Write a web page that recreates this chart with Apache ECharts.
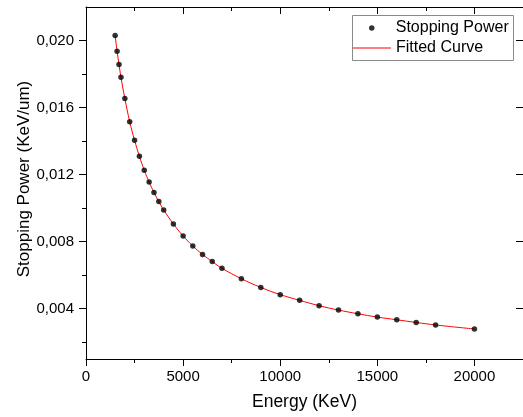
<!doctype html>
<html>

<head>
  <meta charset="utf-8">
  <script src="https://cdn.jsdelivr.net/npm/echarts@6/dist/echarts.min.js"></script>
</head>

<body>
  <style>
    html,
    body {
      width: 100%;
      height: 100%;
      margin: 0;
      background-color: #fff;
    }

    #main {
      width: 523px;
      height: 417px;
    }
  </style>
  <div id="main"></div>
  <script>
    // data
    var energy = [1500, 1600, 1700, 1800, 2000, 2250, 2500, 2750, 3000, 3250, 3500, 3750, 4000, 4500, 5000, 5500,
      6000, 6500, 7000, 8000, 9000, 10000, 11000, 12000, 13000, 14000, 15000, 16000, 17000, 18000, 20000];
    var power = [0.0203, 0.01936, 0.01857, 0.01781, 0.01654, 0.01516, 0.01405, 0.01309, 0.01226, 0.01156, 0.01094,
      0.01039, 0.00989, 0.00906, 0.00834, 0.00774, 0.00724, 0.00681, 0.00641, 0.00579, 0.00527, 0.00484, 0.00450,
      0.00418, 0.00392, 0.00370, 0.00350, 0.00334, 0.00318, 0.00303, 0.00279];
    var xMajor = [0, 5000, 10000, 15000, 20000];
    var xMinor = [2500, 7500, 12500, 17500];
    var yMajor = [0.004, 0.008, 0.012, 0.016, 0.020];
    var yMinor = [0.002, 0.006, 0.010, 0.014, 0.018];

    var font = 'Liberation Sans, Arial, sans-serif';

    window.onload = function () {
      var chart = echarts.init(document.getElementById('main'));
      var points = energy.map(function (e, i) { return [e, power[i]]; });

      function xAx(pos, ticks, len, inside, extra) {
        return Object.assign({
          type: 'value', position: pos, min: 0, max: 22500, gridIndex: 0,
          axisLine: { show: true, onZero: false, lineStyle: { color: '#000', width: 1 } },
          axisTick: { show: true, inside: inside, length: len, customValues: ticks, lineStyle: { color: '#000' } },
          axisLabel: { show: false },
          splitLine: { show: false }
        }, extra || {});
      }
      function yAx(pos, ticks, len, inside, extra) {
        return Object.assign({
          type: 'value', position: pos, min: 0.001, max: 0.022, gridIndex: 0,
          axisLine: { show: true, onZero: false, lineStyle: { color: '#000', width: 1 } },
          axisTick: { show: true, inside: inside, length: len, customValues: ticks, lineStyle: { color: '#000' } },
          axisLabel: { show: false },
          splitLine: { show: false }
        }, extra || {});
      }

      var option = {
        animation: false,
        grid: { left: 86, top: 7, right: 0, bottom: 58 },
        legend: [{
          orient: 'vertical', left: 369, top: 20, padding: 0,
          itemWidth: 38, itemHeight: 5.5,
          data: ['Stopping Power'],
          textStyle: { fontFamily: font, fontSize: 16, color: '#000' }
        }, {
          orient: 'vertical', left: 353, top: 40, padding: 0,
          itemWidth: 38, itemHeight: 1,
          data: [{ name: 'Fitted Curve', icon: 'rect' }],
          textStyle: { fontFamily: font, fontSize: 16, color: '#000' }
        }],
        graphic: [{
          type: 'rect', left: 352, top: 15,
          shape: { width: 161, height: 45 },
          style: { fill: 'rgba(0,0,0,0)', stroke: '#8a8a8a', lineWidth: 1 },
          z: 10
        }],
        xAxis: [
          xAx('bottom', xMajor, 7, false, {
            name: 'Energy (KeV)', nameLocation: 'middle', nameGap: 34, nameMoveOverlap: false,
            nameTextStyle: { fontFamily: font, fontSize: 17.5, color: '#000' },
            axisLabel: {
              show: true, customValues: xMajor, margin: 10,
              fontFamily: font, fontSize: 15, color: '#000',
              formatter: function (v) { return String(v); }
            }
          }),
          xAx('bottom', xMinor, 4, false, { axisLine: { show: false } }),
          xAx('top', xMajor, 7, true),
          xAx('top', xMinor, 4, true, { axisLine: { show: false } })
        ],
        yAxis: [
          yAx('left', yMajor, 7, false, {
            name: 'Stopping Power (KeV/um)', nameLocation: 'middle', nameGap: 53, nameMoveOverlap: false,
            nameTextStyle: { fontFamily: font, fontSize: 17, color: '#000', padding: [0, 0, 0, 8] },
            axisLabel: {
              show: true, customValues: yMajor, margin: 12,
              fontFamily: font, fontSize: 15, color: '#000',
              formatter: function (v) { return v.toFixed(3).replace('.', ','); }
            }
          }),
          yAx('left', yMinor, 4, false, { axisLine: { show: false } }),
          yAx('right', yMajor, 7, true),
          yAx('right', yMinor, 4, true, { axisLine: { show: false } })
        ],
        series: [{
          name: 'Fitted Curve',
          type: 'line',
          xAxisIndex: 0, yAxisIndex: 0,
          data: points,
          smooth: 0.4,
          symbol: 'none',
          lineStyle: { color: '#ff0000', width: 1 },
          itemStyle: { color: '#ff0000' },
          z: 2
        }, {
          name: 'Stopping Power',
          type: 'scatter',
          xAxisIndex: 0, yAxisIndex: 0,
          data: points,
          symbol: 'circle',
          symbolSize: 5.5,
          itemStyle: { color: '#000' },
          z: 3
        }]
      };

      chart.setOption(option);
    }
  </script>
</body>

</html>
